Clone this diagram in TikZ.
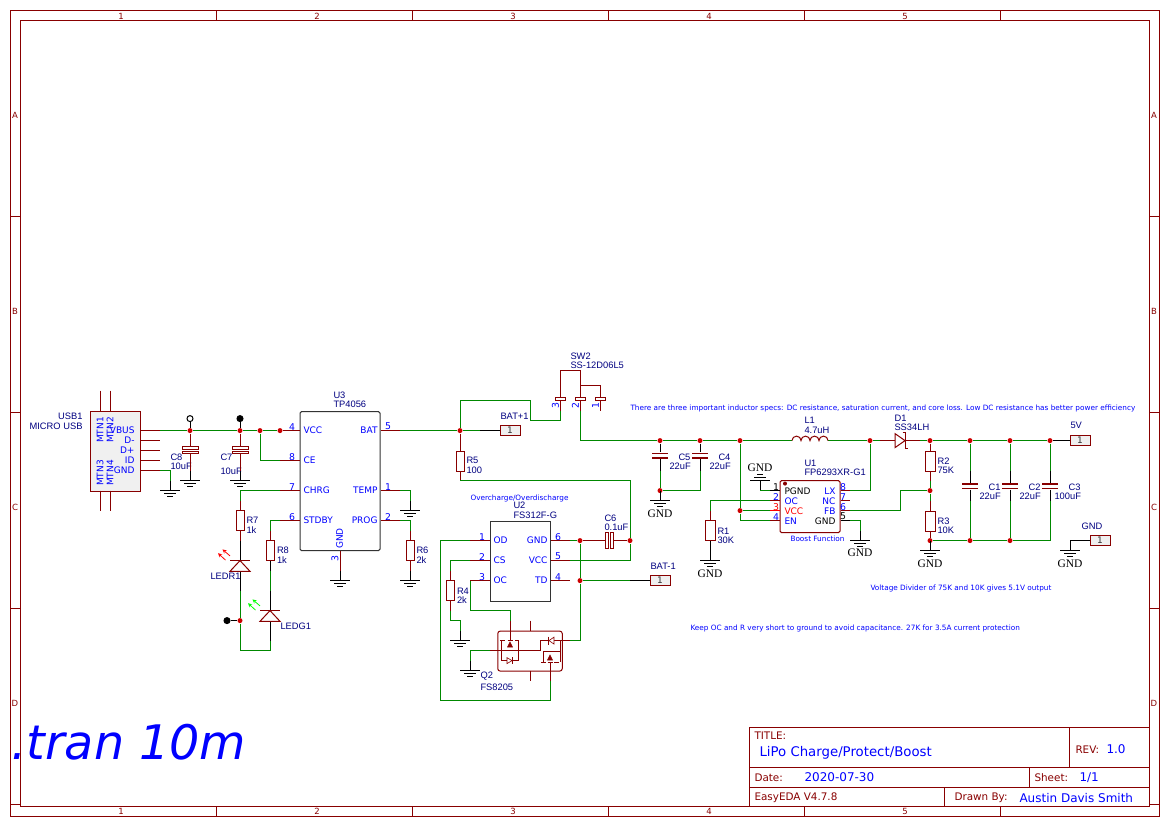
\documentclass[tikz,border=0pt]{standalone}
\usepackage{fontspec}
\setmainfont{DejaVu Sans}
\newfontfamily\namefam{Liberation Sans}
\newfontfamily\gndfam{Liberation Serif}
\usepackage{xcolor}
\usetikzlibrary{shapes,arrows,positioning,calc}
\definecolor{partcol}{HTML}{880000}
\definecolor{wirecol}{HTML}{008800}
\definecolor{namecol}{HTML}{000080}
\definecolor{dotcol}{HTML}{CC0000}
\definecolor{boxfill}{HTML}{F0F0F0}

\begin{document}
\begin{tikzpicture}[
    x=1pt, y=-1pt,
    line width=1pt,
    wire/.style={draw=wirecol},
    pinline/.style={draw=partcol},
    lead/.style={draw=black},
    partline/.style={draw=partcol, fill=none},
    junction/.style={circle, fill=dotcol, inner sep=0pt, minimum size=5pt},
    probe/.style={circle, draw=black, inner sep=0pt, minimum size=6pt},
    res/.style={rectangle, draw=partcol, inner sep=0pt, minimum width=8pt, minimum height=20pt},
    resw/.style={res, minimum width=10pt},
    plate/.style={rectangle, fill=partcol, inner sep=0pt, minimum width=16pt, minimum height=1.4pt},
    platebox/.style={rectangle, draw=partcol, fill=white, inner sep=0pt, minimum width=16pt, minimum height=2.7pt},
    contact/.style={rectangle, draw=partcol, fill=white, inner sep=0pt, minimum width=10pt, minimum height=2.5pt},
    port/.style={rectangle, draw=partcol, fill=boxfill, inner sep=0pt, minimum width=20pt, minimum height=10pt,
        font=\fontsize{9}{9}\selectfont, text=black!80},
    chip/.style={rectangle, draw=black!80, fill=white, inner sep=0pt},
    partname/.style={anchor=west, inner sep=0pt, text=namecol, font=\namefam\fontsize{9.33}{9.33}\selectfont},
    pinname/.style={inner sep=0pt, text=blue, font=\fontsize{9}{9}\selectfont},
    pinnum/.style={inner sep=0pt, text=blue, font=\fontsize{9.33}{9.33}\selectfont},
    note/.style={anchor=west, inner sep=0pt, text=blue, font=\fontsize{7.3}{7.3}\selectfont},
    gndname/.style={inner sep=0pt, text=black, font=\gndfam\fontsize{11.5}{11.5}\selectfont},
    sheetmark/.style={inner sep=0pt, text=partcol, font=\fontsize{8.5}{8.5}\selectfont},
    sheetlabel/.style={anchor=west, inner sep=0pt, text=partcol, font=\fontsize{10.4}{10.4}\selectfont},
    sheetvalue/.style={anchor=west, inner sep=0pt, text=blue, font=\fontsize{12}{12}\selectfont},
    gnd/.pic={\draw[lead] (0,-10) -- (0,0) (-10,0) -- (10,0) (-6,3) -- (6,3) (-3,6) -- (3,6);},
    pics/led/.style={code={
        \draw[lead, fill=white, draw=partcol] (0,0) -- (10,10.7) -- (-10,10.7) -- cycle;
        \draw[partline] (-10,0) -- (10,0);
        \draw[#1, line width=0.8pt, <-, >=stealth] (-17.5,-11.2) -- (-10,-4.7);
        \draw[#1, line width=0.8pt, <-, >=stealth] (-22,-7.4) -- (-14.5,-0.5);
    }}
]
\useasboundingbox (0,-0.6) rectangle (1169,826.4);

% sheet frame
\draw[partline] (10,10) rectangle (1159,816);
\draw[partline] (20,20) rectangle (1149,806);
\draw[partline] (216,10) -- (216,20) (412,10) -- (412,20) (608,10) -- (608,20) (804,10) -- (804,20) (1000,10) -- (1000,20);
\draw[partline] (216,806) -- (216,816) (412,806) -- (412,816) (608,806) -- (608,816) (804,806) -- (804,816) (1000,806) -- (1000,816);
\draw[partline] (10,216) -- (20,216) (10,412) -- (20,412) (10,608) -- (20,608) (10,804) -- (20,804);
\draw[partline] (1149,216) -- (1159,216) (1149,412) -- (1159,412) (1149,608) -- (1159,608) (1149,804) -- (1159,804);
\node[sheetmark] (t1) at (121,15.5) {1};
\node[sheetmark] (t2) at (317,15.5) {2};
\node[sheetmark] (t3) at (513,15.5) {3};
\node[sheetmark] (t4) at (709,15.5) {4};
\node[sheetmark] (t5) at (905,15.5) {5};
\node[sheetmark] (b1) at (121,811) {1};
\node[sheetmark] (b2) at (317,811) {2};
\node[sheetmark] (b3) at (513,811) {3};
\node[sheetmark] (b4) at (709,811) {4};
\node[sheetmark] (b5) at (905,811) {5};
\node[sheetmark] (la) at (15,115) {A};
\node[sheetmark] (lb) at (15,311) {B};
\node[sheetmark] (lc) at (15,507) {C};
\node[sheetmark] (ld) at (15,703) {D};
\node[sheetmark] (ra) at (1154,115) {A};
\node[sheetmark] (rb) at (1154,311) {B};
\node[sheetmark] (rc) at (1154,507) {C};
\node[sheetmark] (rd) at (1154,703) {D};

% title block
\draw[partline] (749,727) rectangle (1149,806);
\draw[partline] (749,767) -- (1149,767) (749,787) -- (1149,787);
\draw[partline] (1069,727) -- (1069,767) (1029,767) -- (1029,787) (944,787) -- (944,806);
\node[sheetlabel] (titlehead) at (754,735) {TITLE:};
\node[sheetvalue, font=\fontsize{13.3}{13.3}\selectfont] (titletext) at (759,752) {LiPo Charge/Protect/Boost};
\node[sheetlabel] (revhead) at (1075,749) {REV:};
\node[sheetvalue] (revtext) at (1106,749) {1.0};
\node[sheetlabel] (datehead) at (754,777.5) {Date:};
\node[sheetvalue] (datetext) at (804,777) {2020-07-30};
\node[sheetlabel] (sheethead) at (1034,777.5) {Sheet:};
\node[sheetvalue] (sheettext) at (1079,777) {1/1};
\node[sheetlabel] (toolname) at (754,797) {EasyEDA V4.7.8};
\node[sheetlabel] (drawnhead) at (954,797) {Drawn By:};
\node[sheetvalue] (drawntext) at (1019,797) {Austin Davis Smith};

\node[anchor=base west, inner sep=0pt, text=blue, font=\itshape\fontsize{47.6}{47.6}\selectfont] (tran) at (11,759) {.tran 10m};

% USB connector
\node[rectangle, draw=partcol, fill=boxfill, inner sep=0pt, minimum width=50pt, minimum height=80pt] (USB1) at (115,450.5) {};
\draw[pinline] (100,390) -- (100,410) (110,390) -- (110,410) (100,490) -- (100,510) (110,490) -- (110,510);
\coordinate (usbv) at (160,430);
\coordinate (usbm) at (160,440);
\coordinate (usbp) at (160,450);
\coordinate (usbi) at (160,460);
\coordinate (usbg) at (160,470);
\draw[pinline] (USB1.east |- usbv) -- (usbv);
\draw[pinline] (USB1.east |- usbm) -- (usbm);
\draw[pinline] (USB1.east |- usbp) -- (usbp);
\draw[pinline] (USB1.east |- usbi) -- (usbi);
\draw[pinline] (USB1.east |- usbg) -- (usbg);
\node[partname, anchor=east] (usbname) at (83,416) {USB1};
\node[partname, anchor=east] (usbtype) at (83,426) {MICRO USB};
\node[pinname, rotate=90] (mtn1) at (100,429.5) {MTN1};
\node[pinname, rotate=90] (mtn2) at (110,429.5) {MTN2};
\node[pinname, rotate=90] (mtn3) at (100,472.5) {MTN3};
\node[pinname, rotate=90] (mtn4) at (110,472.5) {MTN4};
\node[pinname, anchor=east] (pvbus) at (135,430) {VBUS};
\node[pinname, anchor=east] (pdm) at (135,440) {D-};
\node[pinname, anchor=east] (pdp) at (135,450) {D+};
\node[pinname, anchor=east] (pid) at (135,460) {ID};
\node[pinname, anchor=east] (pug) at (135,470) {GND};

% charger
\node[chip, rounded corners=1.5pt, minimum width=80pt, minimum height=139pt] (U3) at (340,480.5) {};
\coordinate (u3vcc) at (280,430);
\coordinate (u3ce) at (280,460);
\coordinate (u3chrg) at (280,490);
\coordinate (u3st) at (280,520);
\coordinate (u3b) at (400,430);
\coordinate (u3temp) at (400,490);
\coordinate (u3prog) at (400,520);
\coordinate (u3gnd) at (340,570);
\node[partname] (u3name) at (333,395) {U3};
\node[partname] (u3type) at (333,404) {TP4056};
\node[pinname, anchor=west] (pvcc) at (303,430) {VCC};
\node[pinname, anchor=west] (pce) at (303,460) {CE};
\node[pinname, anchor=west] (pchrg) at (303,490) {CHRG};
\node[pinname, anchor=west] (pst) at (303,520) {STDBY};
\node[pinname, anchor=east] (pbat) at (378,430) {BAT};
\node[pinname, anchor=east] (ptemp) at (378,490) {TEMP};
\node[pinname, anchor=east] (pprog) at (378,520) {PROG};
\node[pinname, rotate=90] (pu3g) at (339.5,538) {GND};
\node[pinnum] (n4) at (292,426) {4};
\node[pinnum] (n8) at (292,456) {8};
\node[pinnum] (n7) at (292,486) {7};
\node[pinnum] (n6) at (292,516) {6};
\node[pinnum] (n5) at (388,426) {5};
\node[pinnum] (n1) at (388,486) {1};
\node[pinnum] (n2) at (388,516) {2};
\node[pinnum, rotate=90] (n3) at (335,558) {3};

% input side
\node[junction] (jv1) at (190,430) {};
\node[junction] (jv2) at (240,430) {};
\node[junction] (jv3) at (260,430) {};
\node[junction] (jv4) at (280,430) {};
\node[probe, fill=white] (tpo) at (190,418) {};
\node[probe, fill=black] (tpf) at (240,418) {};
\node[platebox] (C8a) at (190,447.3) {};
\node[platebox] (C8b) at (190,452) {};
\node[platebox] (C7a) at (240,447.3) {};
\node[platebox] (C7b) at (240,452) {};
\coordinate (c8e) at (190,470);
\coordinate (c7e) at (240,470);
\coordinate (g8) at (190,480);
\coordinate (g7) at (240,480);
\coordinate (gu) at (170,490);
\coordinate (guw) at (170,480);
\coordinate (g3) at (340,580);
\coordinate (gt) at (410,510);
\coordinate (gtw) at (410,500);
\pic at (g8) {gnd};
\pic at (g7) {gnd};
\pic at (gu) {gnd};
\pic at (g3) {gnd};
\pic at (gt) {gnd};
\node[partname] (c8name) at (170,457) {C8};
\node[partname] (c8val) at (170,466) {10uF};
\node[partname] (c7name) at (220,457) {C7};
\node[partname] (c7val) at (220,471) {10uF};

\draw[wire] (usbv) -- (jv1);
\draw[wire] (jv1) -- (jv2);
\draw[wire] (jv2) -- (jv3);
\draw[wire] (jv3) -- (jv4);
\draw[pinline] (jv4) -- (U3.west |- jv4);
\draw[wire] (jv3) |- (u3ce);
\draw[pinline] (u3ce) -- (U3.west |- u3ce);
\draw[pinline] (u3chrg) -- (U3.west |- u3chrg);
\draw[pinline] (u3st) -- (U3.west |- u3st);
\draw[pinline] (U3.east |- u3b) -- (u3b);
\draw[pinline] (U3.east |- u3temp) -- (u3temp);
\draw[pinline] (U3.east |- u3prog) -- (u3prog);
\draw[pinline] (U3.south |- u3gnd) -- (U3.south);
\draw[lead] (tpo) -- (jv1);
\draw[lead] (tpf) -- (jv2);
\draw[pinline] (jv1) -- (C8a);
\draw[pinline] (C8b) -- (c8e);
\draw[pinline] (jv2) -- (C7a);
\draw[pinline] (C7b) -- (c7e);
\draw[wire] (usbg) -| (guw);

% status LEDs
\node[res] (R7) at (240,520) {};
\node[res] (R8) at (270,550) {};
\coordinate (r7t) at (240,500);
\coordinate (r7e) at (240,540);
\coordinate (r8t) at (270,530);
\coordinate (r8e) at (270,570);
\coordinate (ledr) at (240,560);
\coordinate (ledrb) at (240,571);
\coordinate (ledre) at (240,590);
\coordinate (ledg) at (270,610);
\coordinate (ledgb) at (270,621);
\coordinate (ledgt) at (270,590);
\coordinate (ledge) at (270,640);
\coordinate (loopc) at (240,650);
\node[junction] (jl) at (240,620) {};
\node[probe, fill=black] (tpl) at (227,620) {};
\draw[wire] (u3chrg) -| (r7t);
\draw[pinline] (r7t) -- (R7.north);
\draw[pinline] (R7.south) -- (r7e);
\draw[lead] (r7e) -- (ledr);
\draw[lead] (ledrb) -- (ledre);
\draw[wire] (ledre) -- (jl);
\draw[wire] (jl) -- (loopc) -| (ledge);
\draw[lead] (tpl) -- (jl);
\draw[wire] (u3st) -| (r8t);
\draw[pinline] (r8t) -- (R8.north);
\draw[lead] (R8.south) -- (r8e);
\draw[wire] (r8e) -- (ledgt);
\draw[lead] (ledgt) -- (ledg);
\draw[lead] (ledgb) -- (ledge);
\pic at (ledr) {led=red};
\pic at (ledg) {led=green};
\node[partname] (r7name) at (246,520) {R7};
\node[partname] (r7val) at (246,530) {1k};
\node[partname] (r8name) at (276.5,550) {R8};
\node[partname] (r8val) at (276.5,560) {1k};
\node[partname] (lrname) at (210,576) {LEDR1};
\node[partname] (lgname) at (280,626) {LEDG1};

% TEMP and PROG
\node[res] (R6) at (410,550) {};
\coordinate (r6t) at (410,530);
\coordinate (r6e) at (410,570);
\coordinate (g6) at (410,580);
\draw[wire] (u3temp) -| (gtw);
\draw[wire] (u3prog) -| (r6t);
\draw[pinline] (r6t) -- (R6.north);
\draw[pinline] (R6.south) -- (r6e);
\pic at (g6) {gnd};
\node[partname] (r6name) at (416,550) {R6};
\node[partname] (r6val) at (416,560) {2k};

% battery and switch
\node[junction] (jb) at (460,430) {};
\node[port] (pbatp) at (510,430) {1};
\coordinate (batw) at (480,430);
\coordinate (b2) at (530,400);
\coordinate (b3) at (530,420);
\coordinate (b4) at (560,420);
\coordinate (sw3) at (560,410);
\coordinate (sw2) at (580,410);
\coordinate (sw1) at (600,410);
\coordinate (swt3) at (560,370);
\coordinate (swt2) at (580,370);
\coordinate (swb) at (580,385);
\coordinate (swr) at (600,385);
\draw[wire] (u3b) -- (jb);
\draw[wire] (jb) -- (batw);
\draw[lead] (batw) -- (pbatp.west);
\draw[wire] (jb) |- (b2) -- (b3) -- (b4) -- (sw3);
\draw[pinline] (sw3) -- (swt3) -- (swt2) -- (sw2);
\draw[pinline] (swb) -- (swr) -- (sw1);
\node[contact] (sc3) at (560,398.5) {};
\node[contact] (sc2) at (580,398.5) {};
\node[contact] (sc1) at (600,398.5) {};
\node[partname] (batname) at (500,416) {BAT+1};
\node[partname] (swname) at (570,356) {SW2};
\node[partname] (swtype) at (570,365) {SS-12D06L5};
\node[pinnum, rotate=90] (s3) at (555.5,405) {3};
\node[pinnum, rotate=90] (s2) at (575.5,405) {2};
\node[pinnum, rotate=90] (s1) at (595.5,405) {1};

\node[res] (R5) at (460,460.5) {};
\coordinate (r5e) at (460,480);
\node[partname] (r5name) at (466,460) {R5};
\node[partname] (r5val) at (466,470) {100};
\node[junction] (jtd) at (630,540) {};
\draw[pinline] (jb) -- (R5.north);
\draw[pinline] (R5.south) -- (r5e);
\draw[wire] (r5e) -| (jtd);

% protection
\node[chip, minimum width=60pt, minimum height=80pt] (U2) at (520,560.5) {};
\coordinate (u2od) at (470,540);
\coordinate (u2cs) at (470,560);
\coordinate (u2oc) at (470,580);
\coordinate (u2g) at (570,540);
\coordinate (u2v) at (570,560);
\coordinate (u2td) at (570,580);
\draw[pinline] (u2od) -- (U2.west |- u2od);
\draw[pinline] (u2cs) -- (U2.west |- u2cs);
\draw[pinline] (u2oc) -- (U2.west |- u2oc);
\draw[pinline] (U2.east |- u2g) -- (u2g);
\draw[pinline] (U2.east |- u2v) -- (u2v);
\draw[pinline] (U2.east |- u2td) -- (u2td);
\node[note] (ovnote) at (470,498) {Overcharge/Overdischarge};
\node[partname] (u2name) at (513,505) {U2};
\node[partname] (u2type) at (513,514.5) {FS312F-G};
\node[pinname, anchor=west] (pod) at (493,540) {OD};
\node[pinname, anchor=west] (pcs) at (493,560) {CS};
\node[pinname, anchor=west] (poc) at (493,580) {OC};
\node[pinname, anchor=east] (pg2) at (548,540) {GND};
\node[pinname, anchor=east] (pv2) at (548,560) {VCC};
\node[pinname, anchor=east] (ptd) at (548,580) {TD};
\node[pinnum] (m1) at (482,536) {1};
\node[pinnum] (m2) at (482,556) {2};
\node[pinnum] (m3) at (482,576) {3};
\node[pinnum] (m6) at (558,536) {6};
\node[pinnum] (m5) at (558,556) {5};
\node[pinnum] (m4) at (558,576) {4};

\node[junction] (jg) at (580,540) {};
\node[junction] (jq) at (580,580) {};
\node[platebox, minimum width=2.7pt, minimum height=16pt] (C6a) at (606.7,540) {};
\node[platebox, minimum width=2.7pt, minimum height=16pt] (C6b) at (612,540) {};
\node[partname] (c6name) at (604,518) {C6};
\node[partname] (c6val) at (604,527) {0.1uF};
\node[port] (pbatn) at (660,580) {1};
\coordinate (batm) at (630,580);
\node[partname] (batnname) at (650,566) {BAT-1};
\coordinate (u2vt) at (630,560);
\draw[wire] (u2g) -- (jg);
\draw[pinline] (jg) -- (C6a);
\draw[pinline] (C6b) -- (jtd);
\draw[wire] (u2v) -- (u2vt) -- (jtd);
\draw[wire] (jg) -- (jq);
\draw[wire] (jq) -- (batm);
\draw[lead] (batm) -- (pbatn.west);

\node[res] (R4) at (450,590) {};
\coordinate (r4t) at (450,570);
\coordinate (r4e) at (450,610);
\coordinate (r4f) at (450,620);
\coordinate (g4w) at (460,630);
\coordinate (g4) at (460,640);
\pic at (g4) {gnd};
\node[partname] (r4name) at (456.5,590.5) {R4};
\node[partname] (r4val) at (456.5,600) {2k};
\draw[wire] (u2cs) -| (r4t);
\draw[pinline] (r4t) -- (R4.north);
\draw[pinline] (R4.south) -- (r4e);
\draw[wire] (r4e) -- (r4f) -| (g4w);

% FET pair
\node[rectangle, rounded corners=2.5pt, draw=partcol, inner sep=0pt, minimum width=64.5pt, minimum height=40pt] (Q2) at (530,650.5) {};
\coordinate (q2t) at (510,620);
\coordinate (q2b) at (550,680);
\coordinate (q2r) at (570,640);
\coordinate (q2l) at (490,650);
\coordinate (q2g) at (470,660);
\coordinate (g2) at (470,670);
\coordinate (oca) at (470,610);
\coordinate (oda) at (440,700);
\pic at (g2) {gnd};
\draw[pinline] (q2t) -- (510,639.5);
\draw[pinline] (530,620) -- (530,630) (530,670) -- (530,680);
\draw[pinline] (q2b) -- (550,661.5);
\draw[pinline] (q2r) -- (540,640) -- (540,650);
\draw[pinline] (q2l) -- (540,650);
\draw[pinline] (500,639.5) -- (505,639.5) (507.5,639.5) -- (512.5,639.5) (515,639.5) -- (519,639.5);
\draw[pinline] (501,639.5) -- (501,660) -- (518,660) -- (518,639.5);
\draw[partcol, line width=0.6pt, fill=partcol] (507.5,646.5) -- (512.5,646.5) -- (510,641.5) -- cycle;
\draw[partcol, line width=0.6pt, fill=white] (507,657) -- (507,663) -- (512,660) -- cycle;
\draw[pinline] (512,656.5) -- (512,663.5);
\draw[pinline] (541,661.5) -- (546,661.5) (547.5,661.5) -- (552.5,661.5) (554,661.5) -- (559,661.5);
\draw[pinline] (543,661.5) -- (543,651) -- (560,651);
\draw[pinline] (560,640) -- (560,661.5);
\draw[partcol, line width=0.6pt, fill=partcol] (547.5,659.5) -- (552.5,659.5) -- (550,654.5) -- cycle;
\draw[partcol, line width=0.6pt, fill=white] (554,636.5) -- (554,643.5) -- (549,640) -- cycle;
\draw[pinline] (548.5,636) -- (548.5,644);
\draw[wire] (jq) |- (q2r);
\draw[wire] (u2oc) -- (oca) -| (q2t);
\draw[wire] (q2l) -| (q2g);
\draw[wire] (u2od) -| (oda) -| (q2b);
\node[partname] (q2name) at (480,676) {Q2};
\node[partname] (q2type) at (480,687) {FS8205};

% switched rail
\node[junction] (jp1) at (660,440) {};
\node[junction] (jp2) at (700,440) {};
\node[junction] (jp3) at (740,440) {};
\node[junction] (jp4) at (870,440) {};
\node[junction] (jc) at (660,490) {};
\node[plate] (C5a) at (660,453) {};
\node[plate] (C5b) at (660,457.3) {};
\node[plate] (C4a) at (700,453) {};
\node[plate] (C4b) at (700,457.3) {};
\coordinate (c5e) at (660,470);
\coordinate (c4e) at (700,470);
\coordinate (g5) at (660,500);
\coordinate (L1a) at (792,440);
\coordinate (L1b) at (828,440);
\coordinate (d1a) at (880,440);
\coordinate (d1t) at (895,440);
\coordinate (d1k) at (905,440);
\coordinate (d1b) at (920,440);
\pic at (g5) {gnd};
\draw[wire] (sw2) |- (jp1);
\draw[wire] (jp1) -- (jp2);
\draw[wire] (jp2) -- (jp3);
\draw[wire] (jp3) -- (L1a);
\draw[wire] (L1b) -- (jp4);
\draw[wire] (jp4) -- (d1a);
\draw[lead] (jp1) -- (C5a);
\draw[lead] (C5b) -- (c5e);
\draw[lead] (jp2) -- (C4a);
\draw[lead] (C4b) -- (c4e);
\draw[wire] (c5e) -- (jc);
\draw[wire] (c4e) |- (jc);
\draw[partline] (L1a) arc[start angle=180, end angle=0, radius=4.5pt] arc[start angle=180, end angle=0, radius=4.5pt] arc[start angle=180, end angle=0, radius=4.5pt] arc[start angle=180, end angle=0, radius=4.5pt];
\draw[pinline] (d1a) -- (d1t);
\draw[pinline, fill=white] (d1t) -- (895,433) -- (905,440) -- (895,447) -- cycle;
\draw[pinline] (d1k) -- (d1b);
\draw[pinline] (902.5,431.7) -- (905,431.7) -- (905,448.3) -- (907.5,448.3);
\node[gndname] (g5name) at (660,513) {GND};
\node[partname] (c5name) at (678,457) {C5};
\node[partname] (c5val) at (669,466) {22uF};
\node[partname] (c4name) at (718,457) {C4};
\node[partname] (c4val) at (709,466) {22uF};
\node[partname] (l1name) at (804,420) {L1};
\node[partname] (l1val) at (804,430) {4.7uH};
\node[partname] (d1name) at (894,418) {D1};
\node[partname] (d1type) at (894,427) {SS34LH};
\node[note] (specnote) at (630,408) {There are three important inductor specs: DC resistance, saturation current, and core loss. Low DC resistance has better power efficiency};

% boost
\node[rectangle, rounded corners=1.5pt, draw=partcol, inner sep=0pt, minimum width=60pt, minimum height=52pt] (U1) at (810,506) {};
\coordinate (u1p) at (770,490);
\coordinate (u1oc) at (770,500);
\coordinate (u1vcc) at (770,510);
\coordinate (u1en) at (770,520);
\coordinate (u1lx) at (850,490);
\coordinate (u1nc) at (850,500);
\coordinate (u1fb) at (850,510);
\coordinate (u1g) at (850,520);
\coordinate (g1b) at (760,490);
\coordinate (g1) at (760,480);
\coordinate (r1t) at (710,510);
\coordinate (r1e) at (710,550);
\coordinate (g0) at (710,560);
\coordinate (g9w) at (860,530);
\coordinate (g9) at (860,540);
\coordinate (fbk) at (900,510);
\node[junction] (jv) at (740,510) {};
\node[junction] (jf) at (930,490) {};
\node[resw] (R1) at (710,530) {};
\fill[partcol] (785,483) circle (2pt);
\draw[lead] (u1p) -- (U1.west |- u1p);
\draw[pinline] (u1oc) -- (U1.west |- u1oc);
\draw[draw=red] (u1vcc) -- (U1.west |- u1vcc);
\draw[pinline] (u1en) -- (U1.west |- u1en);
\draw[pinline] (U1.east |- u1lx) -- (u1lx);
\draw[pinline] (U1.east |- u1nc) -- (u1nc);
\draw[pinline] (U1.east |- u1fb) -- (u1fb);
\draw[lead] (U1.east |- u1g) -- (u1g);
\pic[yscale=-1] at (g1) {gnd};
\pic at (g0) {gnd};
\pic at (g9) {gnd};
\draw[wire] (u1p) -- (g1b);
\draw[wire] (u1oc) -| (r1t);
\draw[pinline] (r1t) -- (R1.north);
\draw[lead] (R1.south) -- (r1e);
\draw[wire] (jp3) -- (jv);
\draw[wire] (jv) -- (u1vcc);
\draw[wire] (jv) |- (u1en);
\draw[wire] (u1lx) -| (jp4);
\draw[wire] (u1fb) -- (fbk) |- (jf);
\draw[wire] (u1g) -| (g9w);
\node[gndname] (g1name) at (760,467) {GND};
\node[gndname] (g0name) at (710,573) {GND};
\node[gndname] (g9name) at (860,552.5) {GND};
\node[partname] (u1name) at (804,463) {U1};
\node[partname] (u1type) at (804,472) {FP6293XR-G1};
\node[partname] (r1name) at (717,531) {R1};
\node[partname] (r1val) at (717,540) {30K};
\node[pinname, anchor=west, text=black] (ppg) at (784,491) {PGND};
\node[pinname, anchor=west] (pbo) at (784,501) {OC};
\node[pinname, anchor=west, text=red] (pbv) at (784,511) {VCC};
\node[pinname, anchor=west] (pbe) at (784,521) {EN};
\node[pinname, anchor=east] (pblx) at (836,491) {LX};
\node[pinname, anchor=east] (pbnc) at (836,501) {NC};
\node[pinname, anchor=east] (pbfb) at (836,511) {FB};
\node[pinname, anchor=east, text=black] (pbg) at (836,521) {GND};
\node[pinnum, text=black] (k1) at (776,486) {1};
\node[pinnum] (k2) at (776,496) {2};
\node[pinnum, text=red] (k3) at (776,506) {3};
\node[pinnum] (k4) at (776,516) {4};
\node[pinnum] (k8) at (843,486) {8};
\node[pinnum] (k7) at (843,496) {7};
\node[pinnum] (k6) at (843,506) {6};
\node[pinnum, text=black] (k5) at (843,516) {5};
\node[note] (boostnote) at (790,538) {Boost Function};

% output
\node[junction] (jo1) at (930,440) {};
\node[junction] (jo2) at (970,440) {};
\node[junction] (jo3) at (1010,440) {};
\node[junction] (jo4) at (1050,440) {};
\node[junction] (jg1) at (930,540) {};
\node[junction] (jg2) at (970,540) {};
\node[junction] (jg3) at (1010,540) {};
\node[resw] (R2) at (930,460.5) {};
\node[resw] (R3) at (930,520.5) {};
\node[plate] (C1a) at (970,483.5) {};
\node[plate] (C1b) at (970,487.7) {};
\node[plate] (C2a) at (1010,483.5) {};
\node[plate] (C2b) at (1010,487.7) {};
\node[plate] (C3a) at (1050,483.5) {};
\node[plate] (C3b) at (1050,487.7) {};
\node[port] (p5v) at (1080,440) {1};
\node[port] (pgnd) at (1100,540) {1};
\coordinate (r2e) at (930,480);
\coordinate (r3t) at (930,500);
\coordinate (g10) at (930,550);
\coordinate (gq) at (1070,540);
\coordinate (g11) at (1070,550);
\coordinate (c1t) at (970,470);
\coordinate (c1e) at (970,500);
\coordinate (c2t) at (1010,470);
\coordinate (c2e) at (1010,500);
\coordinate (c3t) at (1050,470);
\coordinate (c3e) at (1050,500);
\pic at (g10) {gnd};
\pic at (g11) {gnd};
\draw[wire] (d1b) -- (jo1);
\draw[wire] (jo1) -- (jo2);
\draw[wire] (jo2) -- (jo3);
\draw[wire] (jo3) -- (jo4);
\draw[lead] (jo4) -- (p5v.west);
\draw[pinline] (jo1) -- (R2.north);
\draw[pinline] (R2.south) -- (r2e);
\draw[wire] (r2e) -- (jf);
\draw[wire] (jf) -- (r3t);
\draw[pinline] (r3t) -- (R3.north);
\draw[pinline] (R3.south) -- (jg1);
\draw[wire] (jg1) -- (jg2);
\draw[wire] (jg2) -- (jg3);
\draw[wire] (jo2) -- (c1t);
\draw[lead] (c1t) -- (C1a);
\draw[lead] (C1b) -- (c1e);
\draw[wire] (c1e) -- (jg2);
\draw[wire] (jo3) -- (c2t);
\draw[lead] (c2t) -- (C2a);
\draw[lead] (C2b) -- (c2e);
\draw[wire] (c2e) -- (jg3);
\draw[wire] (jo4) -- (c3t);
\draw[lead] (c3t) -- (C3a);
\draw[lead] (C3b) -- (c3e);
\draw[wire] (c3e) |- (jg3);
\draw[lead] (pgnd.west) -- (gq);
\node[gndname] (g10name) at (930,563) {GND};
\node[gndname] (g11name) at (1070,563) {GND};
\node[partname] (r2name) at (937,461) {R2};
\node[partname] (r2val) at (937,470) {75K};
\node[partname] (r3name) at (937,521) {R3};
\node[partname] (r3val) at (937,530) {10K};
\node[partname] (c1name) at (988,487) {C1};
\node[partname] (c1val) at (979,496) {22uF};
\node[partname] (c2name) at (1028,487) {C2};
\node[partname] (c2val) at (1019,496) {22uF};
\node[partname] (c3name) at (1068,487) {C3};
\node[partname] (c3val) at (1054,496) {100uF};
\node[partname] (p5name) at (1070,425) {5V};
\node[partname] (pgname) at (1081,526) {GND};
\node[note] (divnote) at (870,588) {Voltage Divider of 75K and 10K gives 5.1V output};
\node[note] (ocnote) at (690,628) {Keep OC and R very short to ground to avoid capacitance. 27K for 3.5A current protection};

\end{tikzpicture}
\end{document}
